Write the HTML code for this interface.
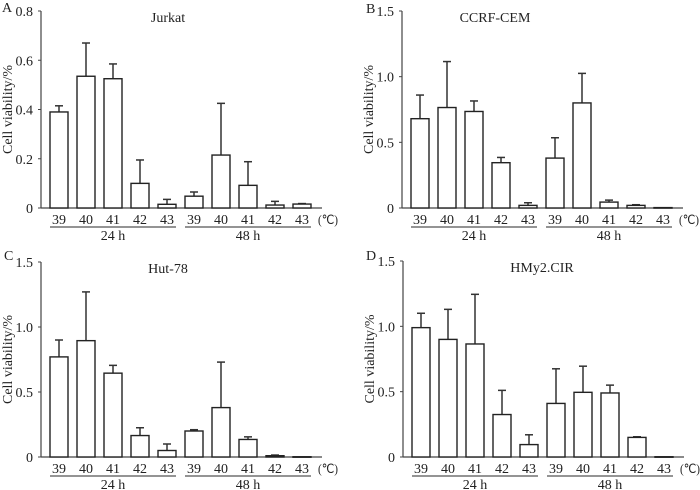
<!DOCTYPE html>
<html><head><meta charset="utf-8"><style>
body{margin:0;background:#fff;}
svg{display:block;font-family:"Liberation Serif",serif;}
</style></head><body>
<svg id="chart" width="700" height="490" viewBox="0 0 700 490"></svg>
<script>
const temps = ["39","40","41","42","43"];
const groups = ["24 h","48 h"];
const jurkatVals = [0.39,0.535,0.525,0.10,0.015,0.048,0.215,0.092,0.012,0.016];
const jurkatErr  = [0.415,0.67,0.585,0.195,0.035,0.065,0.425,0.188,0.027,0.018];
const ccrfVals = [0.68,0.765,0.735,0.345,0.02,0.38,0.80,0.045,0.02,0.003];
const ccrfErr  = [0.86,1.115,0.815,0.385,0.04,0.535,1.025,0.06,0.025,0.003];
const hutVals = [0.77,0.895,0.645,0.165,0.05,0.20,0.38,0.135,0.01,0.002];
const hutErr  = [0.90,1.27,0.705,0.225,0.10,0.21,0.73,0.155,0.015,0.002];
const hmyVals = [0.99,0.90,0.865,0.325,0.095,0.41,0.495,0.49,0.15,0.002];
const hmyErr  = [1.10,1.13,1.245,0.51,0.17,0.675,0.695,0.55,0.155,0.002];
const ticksA = ["0","0.2","0.4","0.6","0.8"];
const ticksB = ["0","0.5","1.0","1.5"];

const svg = document.getElementById('chart');
const NS = 'http://www.w3.org/2000/svg';
function mk(tag, attrs, parent){const e=document.createElementNS(NS,tag);for(const k in attrs)e.setAttribute(k,attrs[k]);(parent||svg).appendChild(e);return e;}

function panel(cfg){
  const g = mk('g',{});
  
  
  const ax=cfg.ax, top=cfg.top, bot=cfg.bot, max=cfg.max;
  const y = v => bot - v/max*(bot-top);
  const xb = i => ax + 9 + i*27;
  const bw = 18;
  const L = mk('text',{x:cfg.lx,y:cfg.ly,'font-size':14,fill:'#222'},g); L.textContent=cfg.letter;
   
  const T = mk('text',{x:cfg.tx,y:top+11,'font-size':14,'text-anchor':'middle',fill:'#222'},g); T.textContent=cfg.title;
   
  const yt = mk('text',{x:0,y:0,'font-size':14,'text-anchor':'middle',fill:'#222',transform:`translate(${ax-29},${(top+bot)/2}) rotate(-90)`},g);
  yt.textContent='Cell viability/%';
   
  const ya = mk('line',{x1:ax,y1:top,x2:ax,y2:bot,stroke:'#444','stroke-width':1.2},g);
   
  const xa = mk('line',{x1:ax,y1:bot,x2:ax+281,y2:bot,stroke:'#444','stroke-width':1.2},g);
   
  const tks = cfg.ticks;
  tks.forEach((t,i)=>{
    const v = i*max/(tks.length-1);
    mk('line',{x1:ax-3,y1:y(v),x2:ax,y2:y(v),stroke:'#444','stroke-width':1},g);
    const tt = mk('text',{x:ax-8,y:y(v)+5,'font-size':14,'text-anchor':'end',fill:'#222'},g); tt.textContent=t;
     
  });
  cfg.vals.forEach((v,i)=>{
    const x=xb(i);
    const e=cfg.err[i];
    if(e>v+0.001){
      mk('line',{x1:x+bw/2,y1:y(e),x2:x+bw/2,y2:y(v),stroke:'#333','stroke-width':1.5},g);
      mk('line',{x1:x+bw/2-4,y1:y(e),x2:x+bw/2+4,y2:y(e),stroke:'#333','stroke-width':1.5},g);
    }
    const r = mk('rect',{x:x,y:y(v),width:bw,height:Math.max(bot-y(v),0.5),fill:'#fff',stroke:'#222','stroke-width':1.4},g);
     
    const lb = mk('text',{x:x+bw/2,y:bot+16,'font-size':14,'text-anchor':'middle',fill:'#222'},g); lb.textContent=temps[i%5];
     
  });
  const u = mk('text',{x:ax+277,y:bot+16,'font-size':13,fill:'#222',textLength:20,lengthAdjust:'spacingAndGlyphs'},g); u.textContent='(℃)';
   
  groups.forEach((gname,k)=>{
    const x1=xb(k*5), x2=xb(k*5+4)+bw;
    mk('line',{x1:x1,y1:bot+19,x2:x2,y2:bot+19,stroke:'#555','stroke-width':1.3},g);
    const gt = mk('text',{x:(x1+x2)/2,y:bot+32,'font-size':14,'text-anchor':'middle',fill:'#222'},g); gt.textContent=gname;
     
  });
}
panel({name:'jurkat',letter:'A',lx:2,ly:12,title:'Jurkat',tx:168,ax:41,top:11,bot:208,max:0.8,ticks:ticksA,vals:jurkatVals,err:jurkatErr});
panel({name:'ccrf-cem',letter:'B',lx:366,ly:13,title:'CCRF-CEM',tx:495,ax:402,top:11,bot:208,max:1.5,ticks:ticksB,vals:ccrfVals,err:ccrfErr});
panel({name:'hut-78',letter:'C',lx:4,ly:260,title:'Hut-78',tx:168,ax:41,top:262,bot:457,max:1.5,ticks:ticksB,vals:hutVals,err:hutErr});
panel({name:'hmy2-cir',letter:'D',lx:366,ly:260,title:'HMy2.CIR',tx:542,ax:403,top:261,bot:457,max:1.5,ticks:ticksB,vals:hmyVals,err:hmyErr});
</script>
</body></html>
